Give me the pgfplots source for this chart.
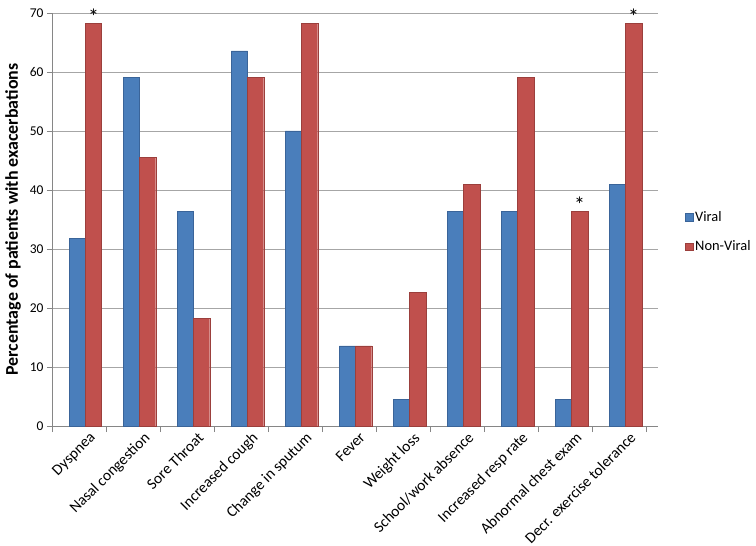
\documentclass[border=0pt]{standalone}
\usepackage{pgfplots}
\pgfplotsset{compat=1.18}
\usepackage{pgfplotstable}
\usepackage{fontspec}
\setmainfont{Carlito}
\definecolor{vbase}{HTML}{4A7EBB}
\definecolor{nbase}{HTML}{C0504D}
\definecolor{vedge}{HTML}{3A6499}
\definecolor{nedge}{HTML}{9B3F3C}
\definecolor{gridc}{HTML}{A6A6A6}
\definecolor{axc}{HTML}{868686}
\pgfplotstableread{
x viral nonviral star
0 31.8 68.2 *
1 59.1 45.5 {}
2 36.4 18.2 {}
3 63.6 59.1 {}
4 50.0 68.2 {}
5 13.6 13.6 {}
6 4.5 22.7 {}
7 36.4 40.9 {}
8 36.4 59.1 {}
9 4.5 36.4 *
10 40.9 68.2 *
}\datatable
\begin{document}
\begin{tikzpicture}
\begin{axis}[
  scale only axis,
  width=606bp, height=413bp,
  xmin=-0.5, xmax=10.72,
  ymin=0, ymax=70,
  ytick={0,10,...,70},
  axis x line*=bottom, axis y line*=left,
  axis line style={axc, line width=0.8pt},
  xtick={0,...,10},
  xticklabels={Dyspnea, Nasal congestion, Sore Throat, Increased cough, Change in sputum, Fever, Weight loss, School/work absence, Increased resp rate, Abnormal chest exam, Decr. exercise tolerance},
  major x tick style={draw=none},
  minor xtick={-0.5,0.5,...,10.5},
  minor x tick style={axc, line width=0.8pt},
  minor tick length=6bp,
  tick align=outside,
  major tick length=5bp,
  y tick style={axc, line width=0.8pt},
  ymajorgrids,
  grid style={gridc, line width=0.9pt},
  xticklabel style={font=\fontsize{15.5}{17}\selectfont, rotate=45, anchor=north east, inner sep=1pt, xshift=8bp, yshift=-6bp},
  yticklabel style={font=\fontsize{13.5}{16}\selectfont},
  /pgf/number format/assume math mode=true,
  ylabel={\bfseries Percentage of patients with exacerbations},
  ylabel style={font=\fontsize{18}{21}\selectfont, yshift=2bp},
  ybar, bar width=0.3,
  legend cell align=left,
  legend style={at={(1.04,0.47)}, anchor=west, draw=none, fill=none,
    font=\fontsize{14.5}{17}\selectfont, row sep=14bp},
  legend image code/.code={\fill[#1] (0cm,-0.13cm) rectangle (0.26cm,0.13cm);},
  clip=false,
]
\addplot[draw=vedge, line width=0.4pt, fill=vbase, bar shift=-0.03] table[x=x, y=viral] {\datatable};
\addlegendentry{Viral}
\addplot[draw=nedge, line width=0.4pt, fill=nbase, bar shift=0.27,
  nodes near coords, point meta=explicit symbolic,
  every node near coord/.append style={font=\fontsize{22}{24}\selectfont, text=black, inner sep=1pt, yshift=-2bp}]
  table[x=x, y=nonviral, meta=star] {\datatable};
\addlegendentry{Non-Viral}
\end{axis}
\path[use as bounding box] (-52bp,-120bp) rectangle (704bp,426bp);
\end{tikzpicture}
\end{document}
